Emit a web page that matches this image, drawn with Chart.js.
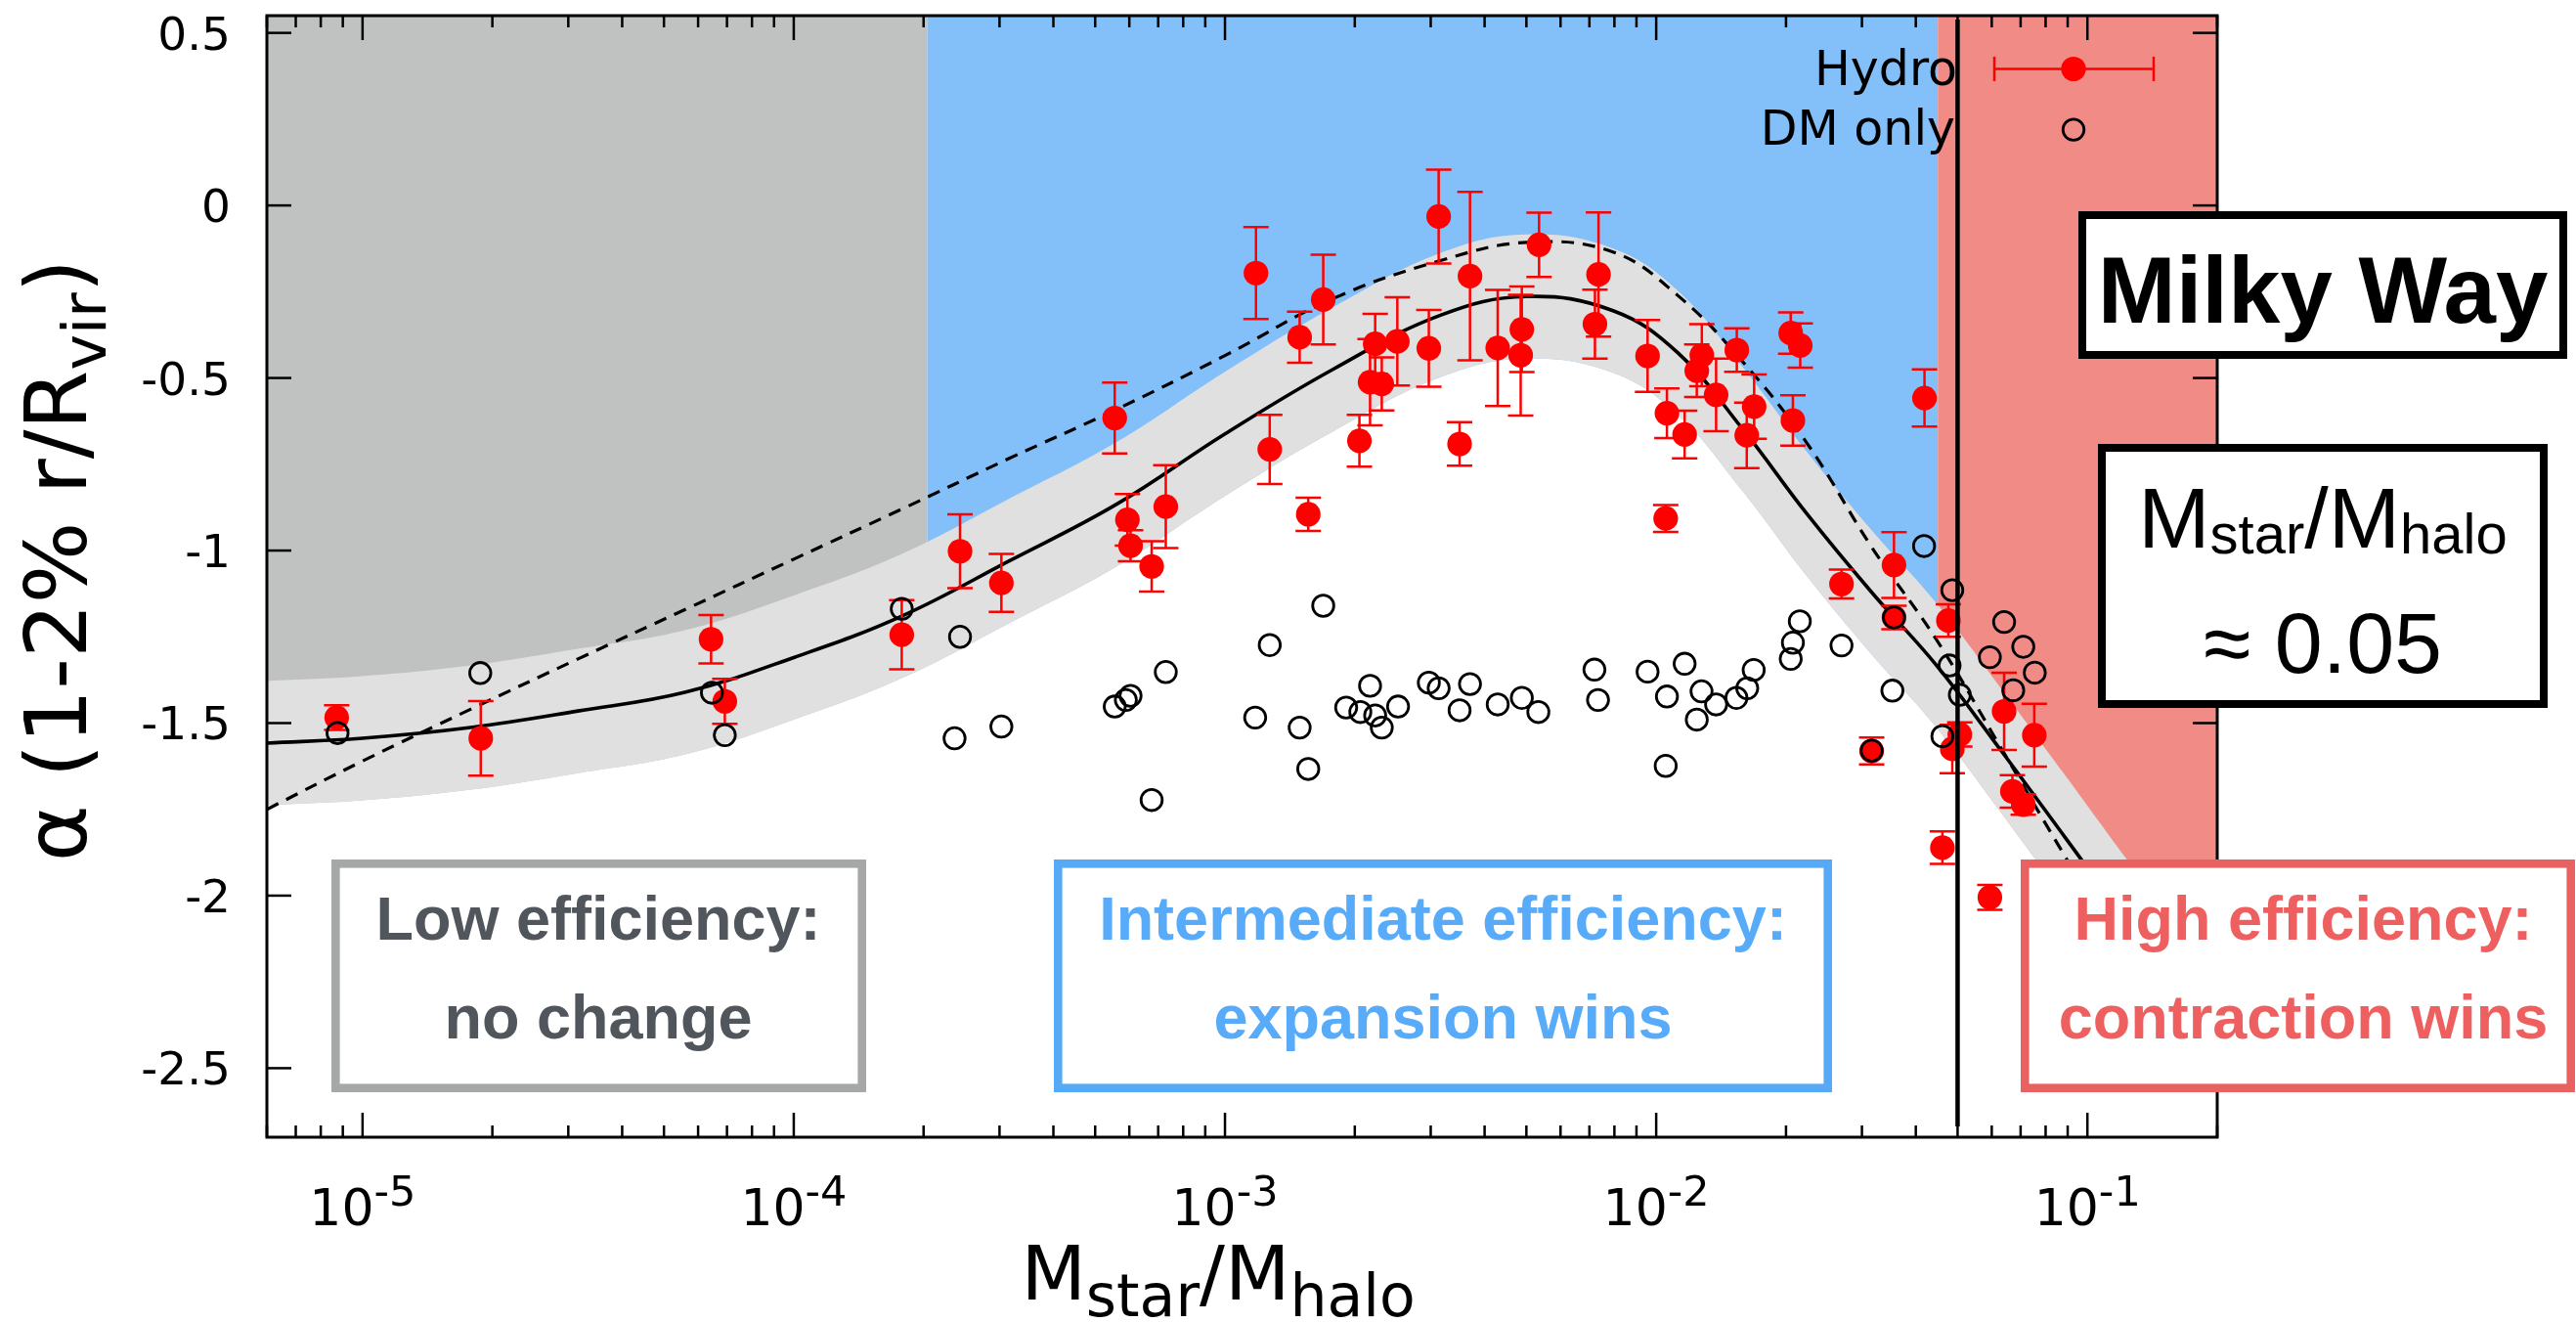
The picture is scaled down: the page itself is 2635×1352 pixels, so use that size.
<!DOCTYPE html>
<html>
<head>
<meta charset="utf-8">
<title>Inner slope vs stellar-to-halo mass ratio</title>
<script src="https://cdn.jsdelivr.net/npm/chart.js@4.4.0/dist/chart.umd.min.js"></script>
<style>
  html, body { margin: 0; padding: 0; background: #fff; }
  #wrap { width: 2635px; height: 1352px; }
</style>
</head>
<body>
<div id="wrap"><canvas id="chart" width="2635" height="1352"></canvas></div>
<script>
// Axis limits and ticks
const xRange = [6e-6, 0.2];
const yRange = [-2.7, 0.55];
const xDecades = [-5, -4, -3, -2, -1];
const yTicks = [0.5, 0, -0.5, -1, -1.5, -2, -2.5];

// Feedback regimes (edges in Mstar/Mhalo) and the Milky Way ratio
const regionEdges = [2.04e-4, 0.045];
const regionColors = ['#c0c1c1', '#83bff8', '#f08b85'];
const milkyWayRatio = 0.05;

// Hydro runs: mass ratio, inner slope, error
const hydroX = [8.71e-6, 1.88e-5, 6.43e-5, 6.92e-5, 1.78e-4, 2.43e-4, 3.03e-4, 5.55e-4, 5.94e-4, 6.04e-4,
  6.76e-4, 7.29e-4, 1.18e-3, 1.27e-3, 1.49e-3, 1.56e-3, 1.69e-3, 2.05e-3, 2.17e-3, 2.23e-3,
  2.31e-3, 2.51e-3, 2.97e-3, 3.13e-3, 3.50e-3, 3.70e-3, 4.29e-3, 4.88e-3, 4.85e-3, 5.35e-3,
  7.35e-3, 7.21e-3, 9.55e-3, 1.059e-2, 1.052e-2, 1.164e-2, 1.242e-2, 1.276e-2, 1.377e-2, 1.538e-2,
  1.622e-2, 1.687e-2, 2.051e-2, 2.158e-2, 2.075e-2, 4.19e-2, 2.69e-2, 3.56e-2, 3.56e-2, 4.76e-2,
  3.16e-2, 5.06e-2, 4.86e-2, 6.41e-2, 7.53e-2, 6.70e-2, 7.10e-2, 4.61e-2, 5.94e-2];
const hydroY = [-1.484, -1.544, -1.257, -1.437, -1.244, -1.002, -1.094, -0.616, -0.911, -0.986,
  -1.046, -0.873, -0.196, -0.707, -0.382, -0.895, -0.273, -0.682, -0.512, -0.401,
  -0.517, -0.394, -0.414, -0.032, -0.691, -0.205, -0.413, -0.359, -0.434, -0.114,
  -0.200, -0.344, -0.436, -0.602, -0.907, -0.664, -0.479, -0.434, -0.549, -0.419,
  -0.666, -0.583, -0.370, -0.406, -0.623, -0.558, -1.097, -1.042, -1.194, -1.203,
  -1.581, -1.533, -1.575, -1.466, -1.535, -1.698, -1.736, -1.861, -2.005];
const hydroErr = [0.036, 0.108, 0.070, 0.065, 0.100, 0.107, 0.084, 0.103, 0.075, 0.045,
  0.073, 0.120, 0.133, 0.100, 0.074, 0.048, 0.130, 0.075, 0.125, 0.087,
  0.077, 0.128, 0.111, 0.136, 0.063, 0.244, 0.168, 0.124, 0.175, 0.093,
  0.180, 0.100, 0.104, 0.072, 0.039, 0.069, 0.076, 0.090, 0.105, 0.063,
  0.095, 0.093, 0.060, 0.064, 0.073, 0.083, 0.042, 0.095, 0.034, 0.047,
  0.039, 0.035, 0.070, 0.112, 0.091, 0.047, 0.030, 0.047, 0.036];

// Dark-matter-only runs
const dmX = [8.75e-6, 1.875e-5, 6.46e-5, 6.92e-5, 1.78e-4, 2.43e-4, 2.36e-4, 3.03e-4, 5.55e-4, 5.89e-4,
  6.04e-4, 7.29e-4, 6.76e-4, 1.27e-3, 1.175e-3, 1.49e-3, 1.56e-3, 1.69e-3, 1.91e-3, 2.06e-3,
  2.17e-3, 2.23e-3, 2.31e-3, 2.52e-3, 2.97e-3, 3.13e-3, 3.70e-3, 3.50e-3, 4.29e-3, 4.88e-3,
  5.33e-3, 7.19e-3, 7.33e-3, 9.55e-3, 1.052e-2, 1.059e-2, 1.164e-2, 1.242e-2, 1.274e-2, 1.377e-2,
  1.535e-2, 1.626e-2, 1.683e-2, 2.051e-2, 2.075e-2, 2.153e-2, 2.69e-2, 3.53e-2, 3.56e-2, 4.18e-2,
  4.86e-2, 4.79e-2, 5.06e-2, 4.61e-2, 3.16e-2, 5.94e-2, 6.41e-2, 7.10e-2, 7.55e-2, 6.73e-2];
const dmY = [-1.529, -1.355, -1.412, -1.535, -1.169, -1.250, -1.544, -1.510, -1.452, -1.433,
  -1.421, -1.352, -1.723, -1.274, -1.484, -1.513, -1.633, -1.160, -1.455, -1.468,
  -1.392, -1.478, -1.513, -1.452, -1.383, -1.399, -1.387, -1.463, -1.446, -1.427,
  -1.468, -1.345, -1.433, -1.351, -1.624, -1.423, -1.328, -1.490, -1.408, -1.446,
  -1.427, -1.399, -1.346, -1.314, -1.267, -1.205, -1.275, -1.406, -1.194, -0.987,
  -1.115, -1.333, -1.418, -1.538, -1.580, -1.309, -1.207, -1.279, -1.354, -1.405];

// Fitted relations sampled along the mass-ratio axis
const fitX = [6e-6, 1e-5, 1.78e-5, 3.16e-5, 5.62e-5, 1e-4, 1.78e-4, 3.16e-4, 5.62e-4, 1e-3,
  1.78e-3, 3.16e-3, 5.01e-3, 7.94e-3, 1.12e-2, 1.58e-2, 2.24e-2, 3.16e-2, 4.47e-2, 6.31e-2,
  8.91e-2, 0.126, 0.2];
const fitSolid = [-1.558, -1.544, -1.513, -1.465, -1.41, -1.31, -1.19, -1.03, -0.865, -0.662,
  -0.475, -0.318, -0.264, -0.305, -0.426, -0.645, -0.895, -1.121, -1.333, -1.58,
  -1.834, -2.09, -2.42];
const fitDashed = [-1.75, -1.61, -1.46, -1.314, -1.17, -1.025, -0.88, -0.733, -0.59, -0.435,
  -0.27, -0.16, -0.107, -0.135, -0.26, -0.45, -0.69, -0.99, -1.259, -1.573,
  -1.89, -2.2, -2.48];
const bandUpper = [-1.378, -1.364, -1.333, -1.285, -1.23, -1.13, -1.01, -0.85, -0.685, -0.482,
  -0.295, -0.138, -0.084, -0.125, -0.246, -0.465, -0.715, -0.941, -1.153, -1.40,
  -1.654, -1.91, -2.24];
const bandLower = [-1.738, -1.724, -1.693, -1.645, -1.59, -1.49, -1.37, -1.21, -1.045, -0.842,
  -0.655, -0.498, -0.444, -0.485, -0.606, -0.825, -1.075, -1.301, -1.513, -1.76,
  -2.014, -2.27, -2.55];

const FONT = '"DejaVu Sans", sans-serif';
const BOX_FONT = '"Liberation Sans", Arial, sans-serif';

const pts = (xs, ys) => xs.map((x, i) => ({ x: x, y: ys[i] }));

function line(ctx, x0, y0, x1, y1) {
    ctx.beginPath();
    ctx.moveTo(x0, y0);
    ctx.lineTo(x1, y1);
    ctx.stroke();
}

// text made of pieces with their own size and baseline shift (subscripts etc.)
function drawParts(ctx, parts, family, cx, baseline) {
    let total = 0;
    parts.forEach(p => { ctx.font = `${p.weight || ''} ${p.size}px ${family}`; p.w = ctx.measureText(p.t).width; total += p.w; });
    let x = cx - total / 2;
    ctx.textAlign = 'left';
    ctx.textBaseline = 'alphabetic';
    parts.forEach(p => {
        ctx.font = `${p.weight || ''} ${p.size}px ${family}`;
        ctx.fillText(p.t, x, baseline + (p.dy || 0));
        x += p.w;
    });
}

function box(ctx, x0, y0, x1, y1, lw, color) {
    ctx.fillStyle = '#fff';
    ctx.fillRect(x0, y0, x1 - x0, y1 - y0);
    ctx.strokeStyle = color;
    ctx.lineWidth = lw;
    ctx.strokeRect(x0 + lw / 2, y0 + lw / 2, x1 - x0 - lw, y1 - y0 - lw);
}

const decor = {
    id: 'decor',
    // colour bands for the three regimes
    beforeDatasetsDraw(chart) {
        const { ctx, chartArea: a, scales: { x } } = chart;
        const edges = [a.left, x.getPixelForValue(regionEdges[0]), x.getPixelForValue(regionEdges[1]), a.right];
        ctx.save();
        regionColors.forEach((c, i) => {
            ctx.fillStyle = c;
            ctx.fillRect(edges[i], a.top, edges[i + 1] - edges[i], a.bottom - a.top);
        });
        ctx.restore();
    },
    // error bars go under the hydro markers
    beforeDatasetDraw(chart, args) {
        if (args.index !== 1) return;
        const { ctx, chartArea: a, scales: { x, y } } = chart;
        ctx.save();
        ctx.beginPath();
        ctx.rect(a.left, a.top, a.right - a.left, a.bottom - a.top);
        ctx.clip();
        ctx.strokeStyle = '#ff0000';
        ctx.lineWidth = 2.5;
        hydroX.forEach((xv, i) => {
            const px = x.getPixelForValue(xv);
            const top = y.getPixelForValue(hydroY[i] + hydroErr[i]);
            const bot = y.getPixelForValue(hydroY[i] - hydroErr[i]);
            ctx.beginPath();
            ctx.moveTo(px, top); ctx.lineTo(px, bot);
            ctx.moveTo(px - 13, top); ctx.lineTo(px + 13, top);
            ctx.moveTo(px - 13, bot); ctx.lineTo(px + 13, bot);
            ctx.stroke();
        });
        ctx.restore();
    },
    afterDatasetsDraw(chart) {
        const { ctx, chartArea: a, scales: { x, y } } = chart;
        ctx.save();

        // legend
        ctx.fillStyle = '#000';
        ctx.font = `49px ${FONT}`;
        ctx.textAlign = 'right';
        ctx.textBaseline = 'alphabetic';
        ctx.fillText('Hydro', 2002, 87);
        ctx.fillText('DM only', 2000, 148);
        ctx.strokeStyle = '#ff0000';
        ctx.lineWidth = 2.5;
        line(ctx, 2040, 70.5, 2203, 70.5);
        line(ctx, 2040, 58, 2040, 83);
        line(ctx, 2203, 58, 2203, 83);
        ctx.fillStyle = '#ff0000';
        ctx.beginPath(); ctx.arc(2121, 70.5, 12.6, 0, Math.PI * 2); ctx.fill();
        ctx.strokeStyle = '#000';
        ctx.lineWidth = 2.8;
        ctx.beginPath(); ctx.arc(2121, 132.6, 10.8, 0, Math.PI * 2); ctx.stroke();

        // Milky Way mass ratio
        const mx = x.getPixelForValue(milkyWayRatio);
        ctx.lineWidth = 4.5;
        line(ctx, mx, a.top + 4, mx, a.bottom - 11);

        // frame and inward ticks
        ctx.lineWidth = 3;
        ctx.strokeRect(a.left, a.top, a.right - a.left, a.bottom - a.top);
        ctx.lineWidth = 2.5;
        for (let d = -6; d <= -1; d++) {
            for (let k = 1; k <= 9; k++) {
                const v = k * Math.pow(10, d);
                if (v < xRange[0] * 0.999 || v > xRange[1] * 1.001) continue;
                const px = x.getPixelForValue(v);
                const len = k === 1 ? 25 : 12;
                line(ctx, px, a.bottom, px, a.bottom - len);
                line(ctx, px, a.top, px, a.top + len);
            }
        }
        yTicks.forEach(v => {
            const py = y.getPixelForValue(v);
            line(ctx, a.left, py, a.left + 25, py);
            line(ctx, a.right, py, a.right - 25, py);
        });

        // tick labels
        ctx.fillStyle = '#000';
        ctx.font = `47px ${FONT}`;
        ctx.textAlign = 'right';
        ctx.textBaseline = 'alphabetic';
        yTicks.forEach(v => ctx.fillText(v === 0 ? '0' : String(v), 236, y.getPixelForValue(v) + 17));
        xDecades.forEach(d => {
            drawParts(ctx, [{ t: '10', size: 52 }, { t: String(d), size: 43, dy: -20 }], FONT,
                x.getPixelForValue(Math.pow(10, d)), 1253);
        });

        // axis titles
        drawParts(ctx, [
            { t: 'M', size: 77 }, { t: 'star', size: 60, dy: 17 },
            { t: '/M', size: 77 }, { t: 'halo', size: 60, dy: 17 }
        ], FONT, 1246, 1329);
        ctx.save();
        ctx.translate(88, 573);
        ctx.rotate(-Math.PI / 2);
        drawParts(ctx, [
            { t: 'α (1-2% r/R', size: 88 }, { t: 'vir', size: 62, dy: 20 }, { t: ')', size: 88 }
        ], FONT, 0, 0);
        ctx.restore();

        // regime boxes
        box(ctx, 339, 879, 886, 1117, 8.6, '#a6a8a8');
        box(ctx, 1078, 879, 1874, 1117, 8.6, '#56a9f5');
        box(ctx, 2067, 879, 2634, 1117, 8.6, '#e96262');
        const label = (lines, cx, color) => {
            ctx.fillStyle = color;
            drawParts(ctx, [{ t: lines[0], size: 63, weight: 'bold' }], BOX_FONT, cx, 961);
            drawParts(ctx, [{ t: lines[1], size: 63, weight: 'bold' }], BOX_FONT, cx, 1062);
        };
        label(['Low efficiency:', 'no change'], 612, '#50565c');
        label(['Intermediate efficiency:', 'expansion wins'], 1476, '#57abf8');
        label(['High efficiency:', 'contraction wins'], 2356, '#ee6060');

        // Milky Way boxes
        box(ctx, 2126, 216, 2626, 367, 8, '#000');
        ctx.fillStyle = '#000';
        drawParts(ctx, [{ t: 'Milky Way', size: 96, weight: 'bold' }], BOX_FONT, 2376, 330);
        box(ctx, 2146, 454, 2606, 724, 8, '#000');
        ctx.fillStyle = '#000';
        drawParts(ctx, [
            { t: 'M', size: 88 }, { t: 'star', size: 58, dy: 6 },
            { t: '/M', size: 88 }, { t: 'halo', size: 58, dy: 6 }
        ], BOX_FONT, 2376, 560);
        drawParts(ctx, [{ t: '≈ 0.05', size: 88 }], BOX_FONT, 2376, 688);

        ctx.restore();
    }
};

new Chart(document.getElementById('chart'), {
    type: 'scatter',
    data: {
        datasets: [
            {
                label: 'DM only', data: pts(dmX, dmY), order: 0,
                pointRadius: 10.8, pointBorderWidth: 2.8,
                pointBorderColor: '#000', pointBackgroundColor: 'rgba(0,0,0,0)',
                borderColor: '#000', backgroundColor: 'rgba(0,0,0,0)'
            },
            {
                label: 'Hydro', data: pts(hydroX, hydroY), order: 1,
                pointRadius: 12.6, pointBorderWidth: 0,
                pointBackgroundColor: '#ff0000', backgroundColor: '#ff0000', borderColor: '#ff0000'
            },
            {
                label: 'Fit', data: pts(fitX, fitSolid), order: 2, showLine: true, fill: false,
                borderColor: '#000', borderWidth: 3.6, pointRadius: 0, tension: 0.4
            },
            {
                label: 'Fit (DM)', data: pts(fitX, fitDashed), order: 3, showLine: true, fill: false,
                borderColor: '#000', borderWidth: 3.2, borderDash: [13, 9], pointRadius: 0, tension: 0.4
            },
            {
                label: 'Scatter upper', data: pts(fitX, bandUpper), order: 4, showLine: true,
                borderColor: 'rgba(0,0,0,0)', borderWidth: 0, pointRadius: 0, tension: 0.4,
                fill: '+1', backgroundColor: '#e0e0e0'
            },
            {
                label: 'Scatter lower', data: pts(fitX, bandLower), order: 5, showLine: true,
                borderColor: 'rgba(0,0,0,0)', borderWidth: 0, pointRadius: 0, tension: 0.4,
                fill: 'start', backgroundColor: '#ffffff'
            }
        ]
    },
    options: {
        responsive: false,
        devicePixelRatio: 1,
        animation: false,
        events: [],
        layout: { padding: { left: 273, right: 367, top: 16, bottom: 189 } },
        scales: {
            x: { type: 'logarithmic', min: xRange[0], max: xRange[1], display: false },
            y: { type: 'linear', min: yRange[0], max: yRange[1], display: false }
        },
        plugins: { legend: { display: false }, tooltip: { enabled: false } }
    },
    plugins: [decor]
});
</script>
</body>
</html>
